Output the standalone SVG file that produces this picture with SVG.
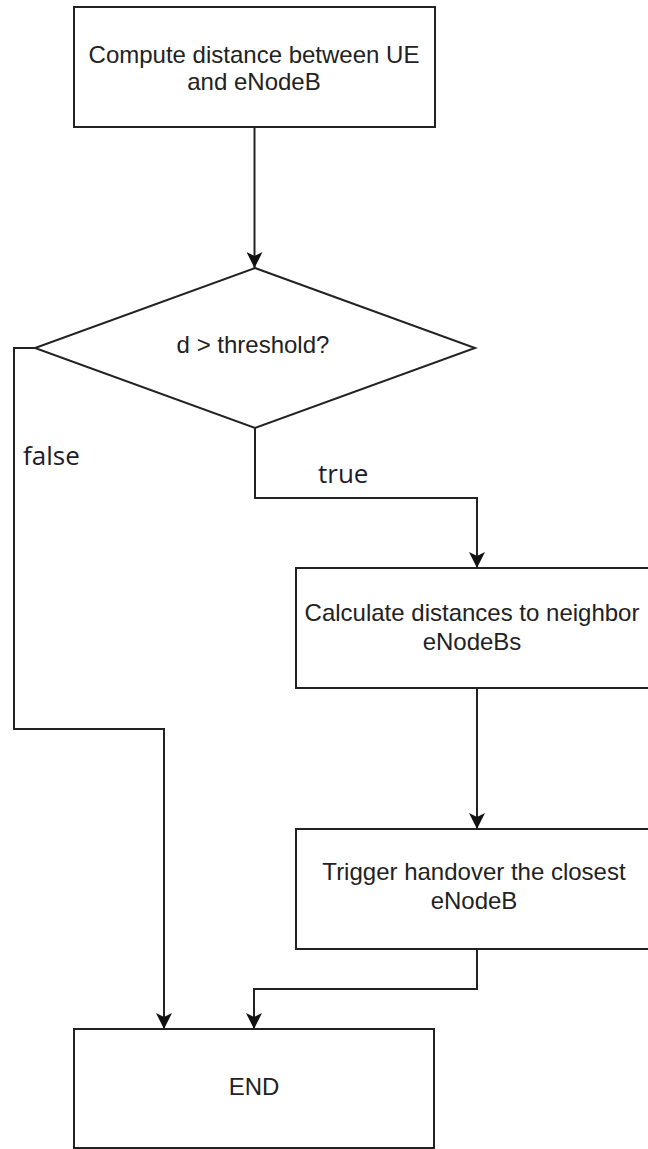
<svg xmlns="http://www.w3.org/2000/svg" width="648" height="1149" viewBox="0 0 648 1149">
  <style>
    .shape { fill: #ffffff; stroke: #222222; stroke-width: 2; }
    .edge { fill: none; stroke: #222222; stroke-width: 2; stroke-linejoin: miter; }
    .label { font-family: "Liberation Sans", Arial, sans-serif; font-size: 24px; fill: #222222; text-anchor: middle; }
    .branch { font-family: "Open Sans", "Noto Sans", sans-serif; font-size: 26px; fill: #1c1c2c; }
  </style>
  <defs>
    <marker id="arrow" viewBox="-16 -8 16 16" refX="0" refY="0" markerWidth="16" markerHeight="16" markerUnits="userSpaceOnUse" orient="auto">
      <path d="M0,0 L-16,-8 L-12,0 L-16,8 Z" fill="#111111"/>
    </marker>
  </defs>
  <rect width="648" height="1149" fill="#ffffff"/>

  <g id="connectors">
    <path class="edge" d="M254.5,127 V268" marker-end="url(#arrow)"/>
    <path class="edge" d="M35,348 H14 V729 H164 V1029" marker-end="url(#arrow)"/>
    <path class="edge" d="M255,428 V498 H477 V568" marker-end="url(#arrow)"/>
    <path class="edge" d="M477,688 V829" marker-end="url(#arrow)"/>
    <path class="edge" d="M477,949 V989 H254 V1029" marker-end="url(#arrow)"/>
    <text class="branch" x="23" y="465">false</text>
    <text class="branch" x="318" y="483">true</text>
  </g>

  <g id="compute">
    <rect class="shape" x="74" y="7" width="361" height="120"/>
    <text class="label" x="254" y="63">Compute distance between UE</text>
    <text class="label" x="254" y="90">and eNodeB</text>
  </g>

  <g id="decision">
    <polygon class="shape" points="255,268 475,348 255,428 35,348"/>
    <text class="label" x="253" y="353">d &gt; threshold?</text>
  </g>

  <g id="calculate">
    <rect class="shape" x="296" y="568" width="362" height="120"/>
    <text class="label" x="472" y="621">Calculate distances to neighbor</text>
    <text class="label" x="472" y="650">eNodeBs</text>
  </g>

  <g id="trigger">
    <rect class="shape" x="296" y="829" width="362" height="120"/>
    <text class="label" x="474" y="880">Trigger handover the closest</text>
    <text class="label" x="474" y="909">eNodeB</text>
  </g>

  <g id="end">
    <rect class="shape" x="74" y="1029" width="360" height="119"/>
    <text class="label" x="254" y="1095">END</text>
  </g>
</svg>
